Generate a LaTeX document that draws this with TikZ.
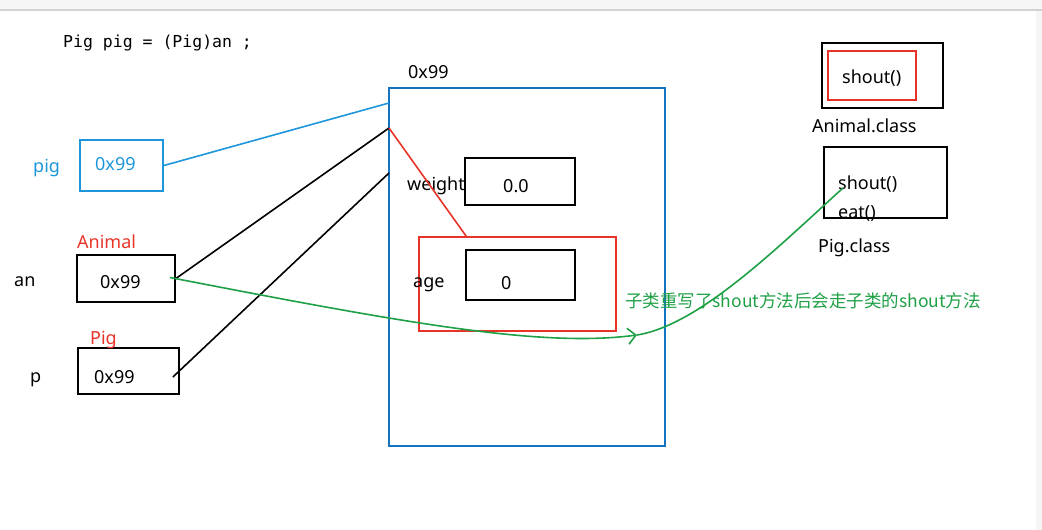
\documentclass[tikz,border=0pt]{standalone}
\usepackage{fontspec}
\setmainfont{Noto Sans}
\newfontfamily\cjkfont{Noto Sans CJK SC}
\newfontfamily\codefont{DejaVu Sans Mono}
\usetikzlibrary{calc,arrows.meta}
\definecolor{refblue}{RGB}{30,150,220}
\definecolor{heapblue}{RGB}{20,115,190}
\definecolor{typered}{RGB}{232,52,40}
\definecolor{notegreen}{RGB}{30,160,70}
\begin{document}
\begin{tikzpicture}[x=1pt, y=-1pt,
    every node/.style={font=\fontsize{18}{21}\selectfont, inner sep=0pt},
    txt/.style={anchor=base west},
    cell/.style 2 args={draw, line width=1.8pt, minimum width=#1, minimum height=#2},
    refline/.style={line width=1.6pt},
    overline/.style={line width=1.6pt, notegreen}]
    \useasboundingbox (0,0) rectangle (1042,530);
    % Rand des Fensters
    \fill[gray!7] (0,0) rectangle (1042,10);
    \draw[gray!35, line width=1.5pt] (0,10) -- (1042,10);
    \fill[gray!8] (1036,11) rectangle (1042,530);
    % Code
    \node[txt, font=\codefont\fontsize{16.5}{20}\selectfont] (code) at (63,47) {Pig pig = (Pig)an ;};
    % Heap-Objekt
    \node[cell={276}{358}, draw=heapblue, line width=2.8pt] (heap) at (527,267) {};
    \node[txt] (heapaddr) at (408,78) {0x99};
    \node[cell={110}{47}] (weightbox) at (520,181.5) {};
    \node[txt] (weightlbl) at (407,190) {weight};
    \node[txt] (weightval) at (503,192) {0.0};
    \node[cell={197}{94}, draw=typered, line width=1.6pt] (agered) at (517.5,284) {};
    \node[cell={109}{50}] (agebox) at (520.5,275) {};
    \node[txt] (agelbl) at (413,287) {age};
    \node[txt] (ageval) at (501,289) {0};
    % Referenzen
    \node[cell={83}{51}, draw=refblue] (pigbox) at (121.5,165.5) {};
    \node[txt, text=refblue] (piglbl) at (33,172) {pig};
    \node[txt, text=refblue] (pigval) at (95,170) {0x99};
    \node[cell={98}{47}] (anbox) at (126,278.5) {};
    \node[txt, text=typered] (antype) at (77,248) {Animal};
    \node[txt] (anlbl) at (14,286) {an};
    \node[txt] (anval) at (100,288) {0x99};
    \node[cell={101}{46}] (pbox) at (128.5,371) {};
    \node[txt, text=typered] (ptype) at (90,344) {Pig};
    \node[txt] (plbl) at (30,382) {p};
    \node[txt] (pval) at (94,383) {0x99};
    % Klassen
    \node[cell={121}{65}] (aclassbox) at (882.5,75.5) {};
    \node[cell={88}{49}, draw=typered, line width=1.6pt] (ashoutbox) at (872,75.5) {};
    \node[txt] (ashout) at (842,83) {shout()};
    \node[txt] (aclass) at (812,132) {Animal.class};
    \node[cell={123}{71}] (pclassbox) at (885.5,182.5) {};
    \node[txt] (pshout) at (838,189) {shout()};
    \node[txt] (peat) at (838,218) {eat()};
    \node[txt] (pclass) at (818,252) {Pig.class};
    \node[txt, font=\cjkfont\fontsize{17.5}{21}\selectfont, text=notegreen] (note) at (625,307)
        {子类重写了shout方法后会走子类的shout方法};
    % Verbindungen
    \coordinate (heapin1) at (389,103);
    \coordinate (heapin2) at (389,128);
    \coordinate (heapin3) at (389,173);
    \coordinate (turn) at (637,335);
    \draw[refline, refblue] (pigbox.east) -- (heapin1);
    \draw[refline] (anbox.east) -- (heapin2);
    \draw[refline] ($(pbox.east)+(-7,6)$) -- (heapin3);
    \draw[refline, typered] (heapin2) -- ($(agered.north west)+(48,0)$);
    \draw[overline, -{Straight Barb[length=8pt, width=16pt]}]
        ($(anbox.east)+(-6,-1)$) .. controls (400,322) and (540,348) .. (turn);
    \draw[overline] (turn) .. controls (700,325) and (780,245) .. ($(pshout.base west)+(5,-1)$);
\end{tikzpicture}
\end{document}
